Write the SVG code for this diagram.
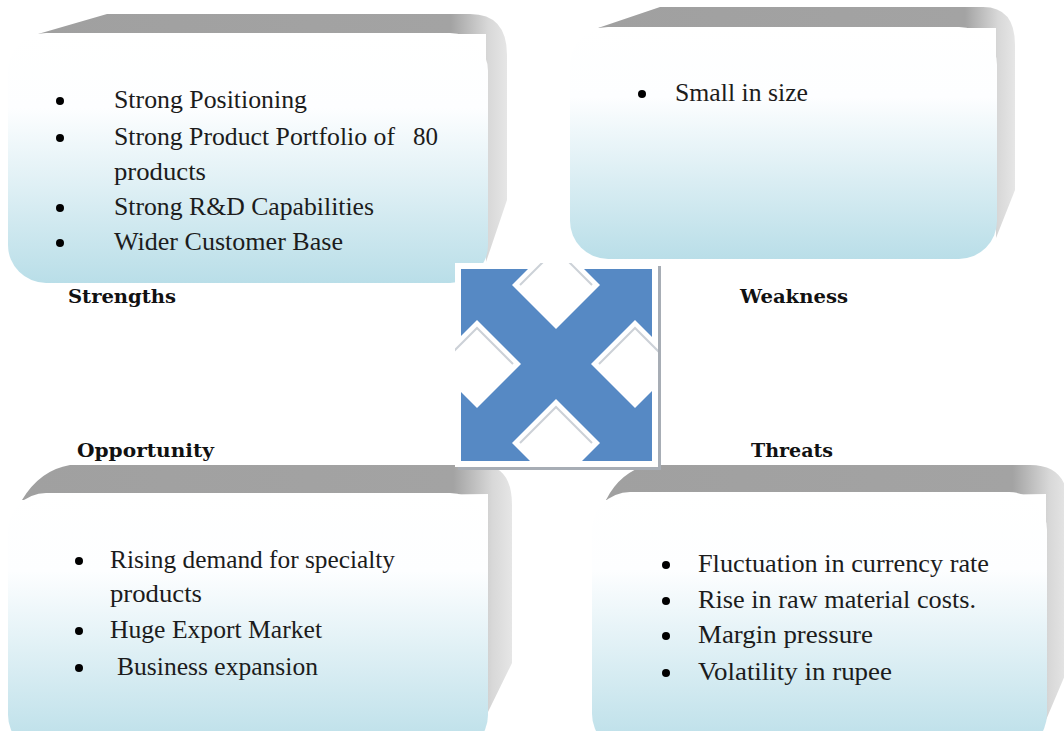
<svg xmlns="http://www.w3.org/2000/svg" width="1064" height="731" viewBox="0 0 1064 731">
<defs>
<linearGradient id="face" x1="0" y1="0" x2="0" y2="1">
<stop offset="0" stop-color="#ffffff"/>
<stop offset="0.3" stop-color="#fdfeff"/>
<stop offset="1" stop-color="#b9dee8"/>
</linearGradient>
<linearGradient id="bevel" x1="0" y1="0" x2="1" y2="0">
<stop offset="0" stop-color="#a0a0a0"/>
<stop offset="0.88" stop-color="#a3a3a3"/>
<stop offset="0.96" stop-color="#d8d8d8"/>
<stop offset="1" stop-color="#e6e6e6"/>
</linearGradient>
<clipPath id="iconclip"><rect x="455" y="263" width="203" height="204"/></clipPath>
<style>
.face{fill:url(#face)}
.bevel{fill:url(#bevel)}
.body{font-family:"Liberation Serif","Times New Roman",serif;font-size:25px;fill:#1c1c1c}
.label{font-family:"DejaVu Serif","Liberation Serif",serif;font-weight:bold;font-size:18px;fill:#111}
.dot{fill:#000}
.notch{fill:#ffffff}
.notchline{fill:none;stroke:#ccd1d7;stroke-width:2}
</style>
</defs>
<rect width="1064" height="731" fill="#ffffff"/>

<g id="strengths">
<path class="bevel" d="M38,34 L107,14 L470,14 Q507,14 507,55 L507,200 L486,262 L486,34 Z"/>
<rect class="face" x="8" y="33" width="480" height="250" rx="38" ry="38"/>
<circle class="dot" cx="60" cy="101" r="4"/>
<circle class="dot" cx="60" cy="138" r="4"/>
<circle class="dot" cx="60" cy="208" r="4"/>
<circle class="dot" cx="60" cy="243" r="4"/>
<text class="body" x="114" y="108" textLength="193" lengthAdjust="spacingAndGlyphs">Strong Positioning</text>
<text class="body" x="114" y="145" textLength="281" lengthAdjust="spacingAndGlyphs">Strong Product Portfolio of</text>
<text class="body" x="413" y="145" textLength="25" lengthAdjust="spacingAndGlyphs">80</text>
<text class="body" x="114" y="180" textLength="92" lengthAdjust="spacingAndGlyphs">products</text>
<text class="body" x="114" y="215" textLength="260" lengthAdjust="spacingAndGlyphs">Strong R&amp;D Capabilities</text>
<text class="body" x="114" y="250" textLength="229" lengthAdjust="spacingAndGlyphs">Wider Customer Base</text>
<text class="label" x="68" y="303" textLength="108" lengthAdjust="spacingAndGlyphs">Strengths</text>
</g>

<g id="weakness">
<path class="bevel" d="M598,28 L660,7 L983,7 Q1015,7 1015,45 L1015,190 L996,238 L996,28 Z"/>
<rect class="face" x="570" y="27" width="427" height="232" rx="38" ry="38"/>
<circle class="dot" cx="642" cy="94" r="4"/>
<text class="body" x="675" y="101" textLength="133" lengthAdjust="spacingAndGlyphs">Small in size</text>
<text class="label" x="740" y="303" textLength="108" lengthAdjust="spacingAndGlyphs">Weakness</text>
</g>

<g id="opportunity">
<path class="bevel" d="M22,500 Q40,470 70,465 L480,465 Q512,465 512,505 L512,663 L488,712 L488,494 Z"/>
<rect class="face" x="8" y="493" width="480" height="260" rx="38" ry="38"/>
<circle class="dot" cx="79" cy="561" r="4"/>
<circle class="dot" cx="79" cy="631" r="4"/>
<circle class="dot" cx="79" cy="668" r="4"/>
<text class="body" x="110" y="568" textLength="285" lengthAdjust="spacingAndGlyphs">Rising demand for specialty</text>
<text class="body" x="110" y="602" textLength="92" lengthAdjust="spacingAndGlyphs">products</text>
<text class="body" x="110" y="638" textLength="212" lengthAdjust="spacingAndGlyphs">Huge Export Market</text>
<text class="body" x="117" y="675" textLength="201" lengthAdjust="spacingAndGlyphs">Business expansion</text>
<text class="label" x="77" y="457" textLength="137" lengthAdjust="spacingAndGlyphs">Opportunity</text>
</g>

<g id="threats">
<path class="bevel" d="M606,500 Q620,472 648,465 L1030,465 Q1068,465 1068,505 L1068,668 L1046,720 L1046,494 Z"/>
<rect class="face" x="592" y="492" width="455" height="260" rx="38" ry="38"/>
<circle class="dot" cx="666" cy="565" r="4"/>
<circle class="dot" cx="666" cy="601" r="4"/>
<circle class="dot" cx="666" cy="636" r="4"/>
<circle class="dot" cx="666" cy="673" r="4"/>
<text class="body" x="698" y="572" textLength="291" lengthAdjust="spacingAndGlyphs">Fluctuation in currency rate</text>
<text class="body" x="698" y="608" textLength="278" lengthAdjust="spacingAndGlyphs">Rise in raw material costs.</text>
<text class="body" x="698" y="643" textLength="175" lengthAdjust="spacingAndGlyphs">Margin pressure</text>
<text class="body" x="698" y="680" textLength="194" lengthAdjust="spacingAndGlyphs">Volatility in rupee</text>
<text class="label" x="751" y="457" textLength="82" lengthAdjust="spacingAndGlyphs">Threats</text>
</g>

<g id="center-icon">
<rect x="458" y="266" width="203" height="204" fill="#a7adb5"/>
<rect x="455" y="263" width="203" height="204" fill="#ffffff"/>
<rect x="461" y="269" width="191" height="192" fill="#5689c4"/>
<g clip-path="url(#iconclip)">
<polygon class="notch" points="556,241 600,285 556,329 512,285"/>
<polygon class="notch" points="556,399 600,443 556,487 512,443"/>
<polygon class="notch" points="477,320 521,364 477,408 433,364"/>
<polygon class="notch" points="635,320 679,364 635,408 591,364"/>
<polyline class="notchline" points="520,285 556,249 592,285"/>
<polyline class="notchline" points="520,443 556,407 592,443"/>
<polyline class="notchline" points="441,364 477,328 513,364"/>
<polyline class="notchline" points="599,364 635,328 671,364"/>
</g>
</g>

<g id="connectors"/>
</svg>
